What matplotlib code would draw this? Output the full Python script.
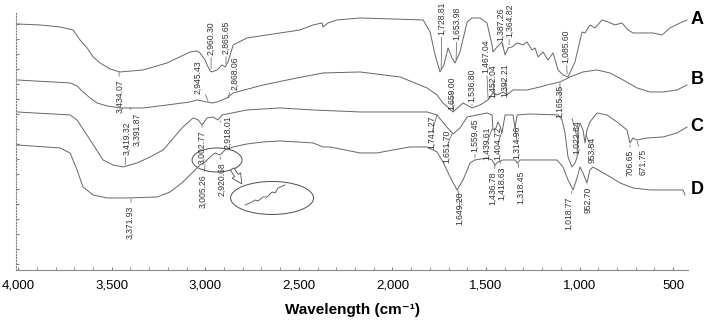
import numpy as np
import matplotlib
matplotlib.use("Agg")
import matplotlib.pyplot as plt
from matplotlib.patches import Ellipse
from matplotlib.ticker import MultipleLocator, FuncFormatter

plt.rcParams['font.family'] = ['Liberation Sans', 'DejaVu Sans']

# FTIR traces, offset vertically (wavenumber cm-1, arbitrary transmittance units)
a_wn = [4005, 3882, 3776, 3706, 3669, 3631, 3599, 3562, 3509, 3455,
        3332, 3204, 3081, 3044, 3028, 3001, 2990, 2974, 2964, 2937,
        2910, 2894, 2878, 2851, 2777, 2600, 2494, 2424, 2376, 2371,
        2344, 2296, 2173, 1836, 1799, 1772, 1746, 1725, 1703, 1682,
        1666, 1639, 1601, 1575, 1532, 1495, 1468, 1463, 1441, 1415,
        1398, 1382, 1361, 1334, 1302, 1281, 1254, 1238, 1222, 1195,
        1169, 1142, 1115, 1089, 1062, 1025, 987, 971, 945, 918,
        880, 848, 811, 774, 741, 715, 661, 608, 560, 517,
        464, 426]
a_val = [246, 245, 243, 240, 230, 222, 213, 207, 201, 198,
         200, 207, 218, 219, 217, 210, 205, 199, 198, 200,
         205, 203, 208, 225, 232, 237, 240, 245, 247, 243,
         247, 250, 252, 250, 238, 215, 198, 205, 222, 212,
         207, 218, 248, 252, 252, 247, 225, 218, 223, 228,
         215, 222, 223, 227, 225, 228, 220, 222, 213, 218,
         210, 217, 200, 195, 193, 208, 238, 237, 245, 242,
         250, 248, 245, 247, 240, 237, 237, 237, 235, 242,
         247, 250]

b_wn = [4005, 3722, 3685, 3653, 3615, 3578, 3525, 3455, 3332, 3204,
        3081, 3044, 2990, 2964, 2937, 2910, 2884, 2851, 2691, 2510,
        2371, 2173, 1959, 1815, 1762, 1730, 1676, 1623, 1575, 1532,
        1489, 1463, 1441, 1409, 1388, 1356, 1281, 1211, 1174, 1105,
        1051, 982, 907, 838, 768, 693, 624, 554, 480, 426]
b_val = [190, 187, 184, 178, 172, 167, 164, 162, 162, 165,
         168, 170, 168, 167, 168, 170, 172, 177, 185, 192,
         197, 198, 193, 182, 175, 167, 158, 167, 162, 165,
         170, 177, 175, 178, 175, 180, 180, 183, 185, 188,
         193, 198, 200, 197, 190, 182, 178, 178, 180, 185]

c_wn = [4005, 3722, 3685, 3615, 3546, 3493, 3439, 3364, 3295, 3225,
        3119, 3065, 3038, 3017, 2990, 2958, 2932, 2910, 2777, 2600,
        2424, 2173, 1815, 1762, 1719, 1676, 1639, 1601, 1495, 1468,
        1463, 1447, 1436, 1425, 1415, 1398, 1356, 1345, 1334, 1265,
        1115, 1094, 1078, 1062, 1041, 1025, 1014, 1009, 998, 982,
        971, 961, 945, 907, 854, 800, 747, 731, 715, 693,
        640, 554, 480, 426]
c_val = [158, 155, 150, 130, 110, 105, 103, 107, 113, 120,
         143, 152, 150, 145, 152, 153, 150, 155, 160, 162,
         160, 158, 158, 155, 145, 136, 142, 153, 157, 155,
         140, 142, 148, 144, 137, 155, 155, 142, 155, 156,
         155, 150, 137, 113, 103, 107, 112, 140, 147, 140,
         127, 140, 148, 157, 155, 148, 140, 127, 132, 130,
         132, 133, 137, 143]

d_wn = [4005, 3776, 3722, 3685, 3653, 3599, 3525, 3418, 3257, 3188,
        3119, 3065, 3028, 3001, 2974, 2948, 2921, 2894, 2851, 2777,
        2691, 2600, 2510, 2424, 2371, 2333, 2173, 2082, 1997, 1906,
        1815, 1762, 1730, 1692, 1655, 1623, 1585, 1559, 1495, 1468,
        1452, 1436, 1409, 1345, 1334, 1318, 1211, 1121, 1089, 1062,
        1035, 1014, 998, 982, 961, 945, 929, 854, 784, 715,
        624, 517, 448, 437]
d_val = [125, 122, 117, 100, 83, 75, 72, 72, 73, 78,
         88, 98, 105, 108, 113, 117, 115, 120, 123, 126,
         128, 129, 128, 127, 123, 123, 117, 117, 120, 123,
         123, 118, 108, 93, 80, 90, 107, 110, 112, 110,
         105, 108, 110, 110, 107, 110, 110, 110, 103, 90,
         80, 92, 103, 97, 87, 100, 103, 95, 87, 82,
         80, 80, 80, 75]

# magnified sketch of the 3,000-2,900 region of D
zoom_wn = [2787, 2750, 2734, 2718, 2691, 2670, 2643, 2627, 2611, 2574]
zoom_val = [65, 68, 70, 69, 73, 73, 78, 77, 82, 85]

curve_names = ['A', 'B', 'C', 'D']

# peak label, text position, point on the trace
peaks = [
    ('3,434.07', 3455, 174, 3461, 198),
    ('2,945.43', 3038, 193, 2985, 169),
    ('2,960.30', 2969, 232, 2969, 201),
    ('2,865.65', 2889, 233, 2889, 206),
    ('2,868.06', 2841, 197, 2878, 172),
    ('1,728.81', 1735, 252, 1740, 201),
    ('1,653.98', 1655, 247, 1660, 210),
    ('1,387.26', 1424, 246, 1409, 223),
    ('1,364.82', 1374, 250, 1377, 225),
    ('1,085.60', 1073, 224, 1067, 196),
    ('1,467.04', 1500, 214, 1489, 171),
    ('1,452.04', 1463, 189, 1452, 173),
    ('1,392.21', 1398, 190, 1388, 175),
    ('1,659.00', 1682, 177, 1676, 159),
    ('1,536.80', 1575, 185, 1575, 164),
    ('1,165.35', 1105, 169, 1105, 187),
    ('3,419.32', 3418, 132, 3428, 105),
    ('3,391.87', 3364, 141, 3402, 162),
    ('3,002.77', 3017, 123, 3017, 144),
    ('2,918.01', 2878, 138, 2921, 149),
    ('3,005.26', 3012, 79, 3001, 106),
    ('2,920.68', 2910, 91, 2921, 113),
    ('3,371.93', 3402, 48, 3396, 71),
    ('1,741.27', 1788, 138, 1762, 155),
    ('1,651.70', 1708, 124, 1682, 136),
    ('1,559.45', 1559, 135, 1559, 112),
    ('1,439.61', 1495, 127, 1468, 141),
    ('1,404.72', 1436, 127, 1415, 138),
    ('1,314.96', 1334, 128, 1345, 143),
    ('1,436.78', 1463, 82, 1452, 105),
    ('1,418.63', 1415, 87, 1425, 109),
    ('1,318.45', 1313, 83, 1329, 107),
    ('1,649.20', 1639, 62, 1650, 80),
    ('1,022.64', 1014, 133, 1041, 152),
    ('953.54', 934, 120, 966, 135),
    ('1,018.77', 1057, 57, 1041, 79),
    ('952.70', 955, 70, 961, 86),
    ('706.65', 731, 107, 731, 125),
    ('671.75', 661, 108, 693, 129),
]

fig = plt.figure(figsize=(7.06, 3.21), dpi=100)
ax = fig.add_axes([0.0227, 0.159, 0.9518, 0.8006])

line_col = '0.4'
for wn, val in [(a_wn, a_val), (b_wn, b_val), (c_wn, c_val), (d_wn, d_val)]:
    ax.plot(wn, val, color=line_col, lw=0.7)

ax.set_xlim(4011, 421)
ax.set_ylim(0, 257)

for name, yy in zip(curve_names, [250, 190, 143, 80]):
    ax.text(373, yy, name, fontsize=13, fontweight='bold', ha='center',
            va='center', clip_on=False)

for txt, tx, ty, px, py in peaks:
    ax.annotate(txt, xy=(px, py), xytext=(tx, ty), rotation=90,
                fontsize=6.2, ha='center', va='center', color='0.2',
                arrowprops=dict(arrowstyle='-', lw=0.5, color='0.35',
                                shrinkA=0, shrinkB=0))

# circled region and its magnified view
ax.add_patch(Ellipse((2937, 110), 267, 24, fill=False, ec='0.3', lw=0.7))
ax.add_patch(Ellipse((2643, 72), 443, 33, fill=False, ec='0.3', lw=0.7))
ax.plot(zoom_wn, zoom_val, color='0.3', lw=0.6)
ax.annotate('', xy=(2805, 86), xytext=(2856, 101),
            arrowprops=dict(arrowstyle='simple,head_length=0.6,head_width=0.6,tail_width=0.25',
                            mutation_scale=12, fc='white', ec='0.3', lw=0.6,
                            shrinkA=0, shrinkB=0))

for s in ['top', 'right']:
    ax.spines[s].set_visible(False)
ax.spines['bottom'].set_color('0.55')
ax.spines['bottom'].set_linewidth(0.8)
ax.spines['left'].set_color('0.5')
ax.spines['left'].set_linestyle(':')
ax.spines['left'].set_linewidth(0.8)

ax.set_xticks(np.arange(500, 4001, 500))
ax.xaxis.set_minor_locator(MultipleLocator(100))
ax.xaxis.set_major_formatter(FuncFormatter(lambda v, p: f'{v:,.0f}'))
ax.tick_params(axis='x', which='both', direction='in', length=2,
               color='0.5', labelsize=9.5, pad=7)
ax.set_yticks(np.arange(246, 0, -15))
ax.tick_params(axis='y', direction='in', length=2, color='0.5',
               labelleft=False)

ax.set_xlabel('Wavelength (cm⁻¹)', fontsize=11, fontweight='bold',
              labelpad=8)

fig.savefig('out.png', dpi=100)
